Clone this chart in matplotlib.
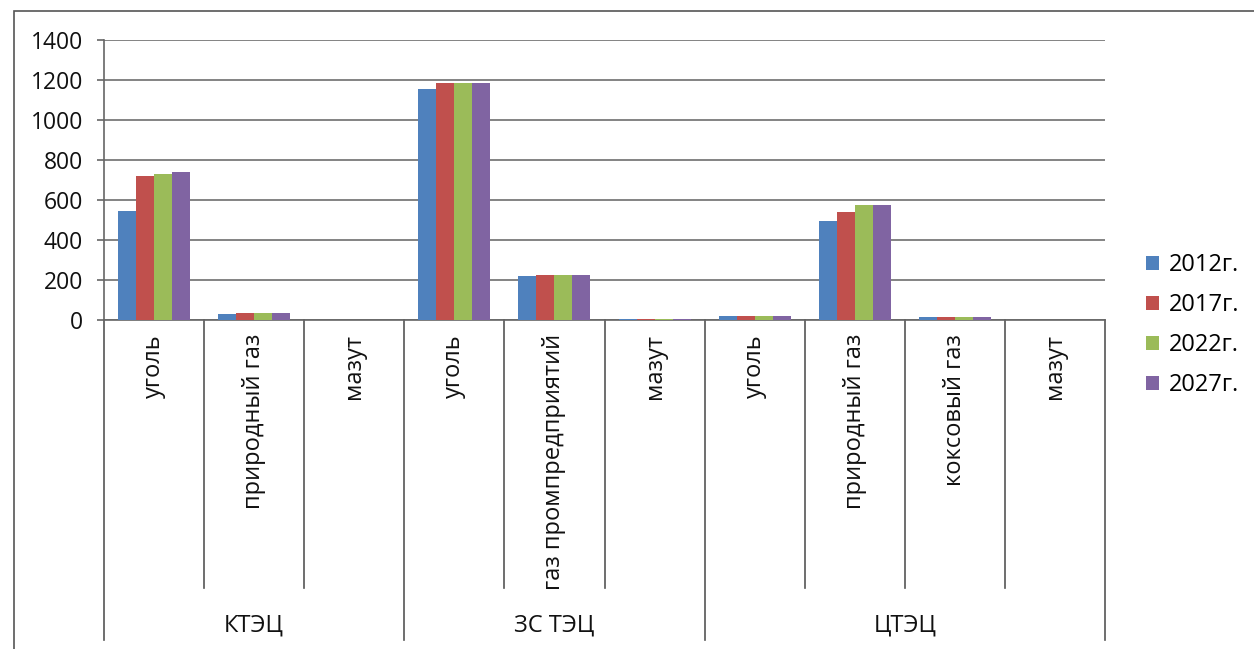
import matplotlib
matplotlib.use("Agg")
import matplotlib.pyplot as plt
import numpy as np
from matplotlib.patches import Rectangle, Patch
from matplotlib.lines import Line2D

plt.rcParams['font.family'] = ['Open Sans', 'DejaVu Sans']

groups = ["КТЭЦ", "ЗС ТЭЦ", "ЦТЭЦ"]
group_sizes = [3, 3, 4]
categories = ["уголь", "природный газ", "мазут",
              "уголь", "газ промпредприятий", "мазут",
              "уголь", "природный газ", "коксовый газ", "мазут"]
series_names = ["2012г.", "2017г.", "2022г.", "2027г."]
v2012 = [547, 28, 0, 1155, 220, 3, 18, 497, 14, 0]
v2017 = [720, 37, 0, 1187, 225, 3, 18, 538, 14, 0]
v2022 = [730, 37, 0, 1187, 225, 3, 20, 575, 14, 0]
v2027 = [738, 37, 0, 1185, 225, 3, 20, 575, 14, 0]
yticks = [0, 200, 400, 600, 800, 1000, 1200, 1400]

colors = ["#4F81BD", "#C0504D", "#9BBB59", "#8064A2"]

W, H = 1254, 649
fig = plt.figure(figsize=(W / 100, H / 100), dpi=100)
fig.patch.set_facecolor("white")

# outer chart border
fig.patches.append(Rectangle((14 / W, -0.05), 1.2, 1 - 11 / H + 0.05,
                             transform=fig.transFigure, fill=False,
                             edgecolor="#555555", linewidth=1.2))

x0, x1, y0, y1 = 104, 1105, 320, 40
ax = fig.add_axes([x0 / W, 1 - y0 / H, (x1 - x0) / W, (y0 - y1) / H])

n = len(categories)
x = np.arange(n)
bw = 0.18
data = [v2012, v2017, v2022, v2027]
for i, (vals, c, name) in enumerate(zip(data, colors, series_names)):
    ax.bar(x + (i - 1.5) * bw, vals, width=bw, color=c, label=name, zorder=3,
           linewidth=0)

ax.set_xlim(-0.5, n - 0.5)
ax.set_ylim(0, 1400)
ax.set_yticks(yticks)
ax.set_yticklabels([str(t) for t in yticks], fontsize=16.5, color="#111111")
ax.tick_params(axis="y", length=5, width=1.2, color="#666666", pad=10)
ax.set_xticks([])
ax.grid(axis="y", color="#7a7a7a", linewidth=1.3, zorder=0)
for s in ["top", "right"]:
    ax.spines[s].set_visible(False)
ax.spines["left"].set_color("#666666")
ax.spines["left"].set_linewidth(1.2)
ax.spines["bottom"].set_color("#666666")
ax.spines["bottom"].set_linewidth(1.2)

# category separators and labels below axis
tr = ax.get_xaxis_transform()
px = 1.0 / (y0 - y1)  # one pixel in axes-y units
bounds = np.cumsum([0] + group_sizes)
group_edges = set(bounds.tolist())
for k in range(n + 1):
    xe = k - 0.5
    bottom = -(640 - y0) * px if k in group_edges else -(588 - y0) * px
    ax.add_line(Line2D([xe, xe], [0, bottom], transform=tr, color="#555555",
                       linewidth=1.2, clip_on=False))
for k, lab in enumerate(categories):
    ax.text(k, -(334 - y0) * px, lab, transform=tr, rotation=90,
            ha="center", va="top", fontsize=17, color="#111111")
for g, name in enumerate(groups):
    center = (bounds[g] + bounds[g + 1]) / 2 - 0.5
    ax.text(center, -(626 - y0) * px, name, transform=tr, ha="center",
            va="center", fontsize=17, color="#111111")

handles = [Patch(facecolor=c, edgecolor="none") for c in colors]
fig.legend(handles, series_names, loc="upper left",
           bbox_to_anchor=(1125 / W, 1 - 232 / H), frameon=False,
           fontsize=17, handlelength=0.55, handleheight=0.55,
           handletextpad=0.4, labelspacing=0.68)

fig.savefig("out.png", dpi=100)
